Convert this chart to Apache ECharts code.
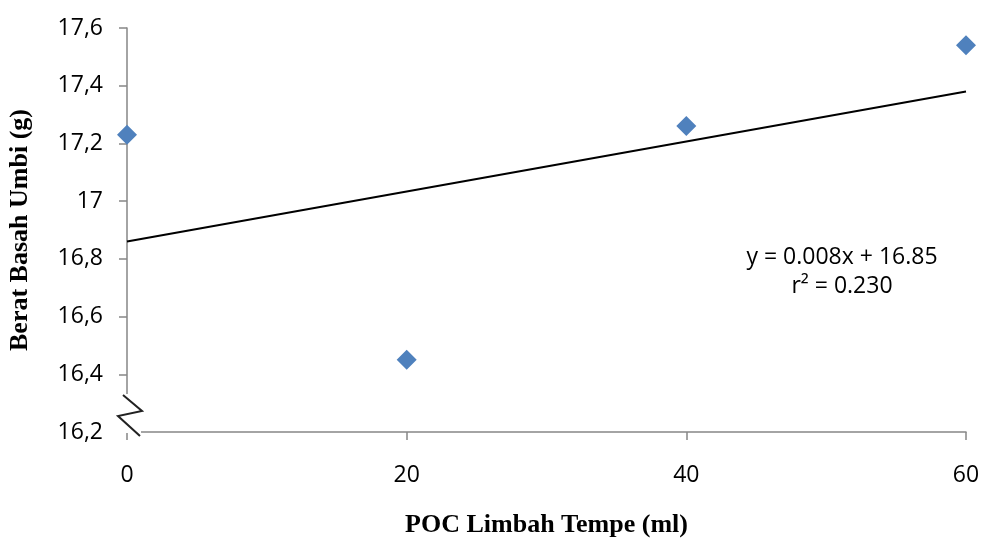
<!DOCTYPE html>
<html>
<head>
<meta charset="utf-8">
<script src="https://cdn.jsdelivr.net/npm/echarts@6/dist/echarts.min.js"></script>
<style>
  html, body { margin: 0; padding: 0; background: #fff; }
  #chart { width: 984px; height: 539px; }
</style>
</head>
<body>
<div id="chart"></div>
<script>
// data
var doses = [0, 20, 40, 60];
var weights = [17.23, 16.45, 17.26, 17.54];
var trendX = [0, 60];
var trendY = [16.86, 17.38];
var equationLines = ['y = 0.008x + 16.85', 'r² = 0.230'];

var axisGray = '#868686';
var labelFont = '"Open Sans", "Liberation Sans", sans-serif';
var titleFont = '"Liberation Serif", "DejaVu Serif", serif';

var chart = echarts.init(document.getElementById('chart'));

var points = doses.map(function (d, i) { return [d, weights[i]]; });
var trend = trendX.map(function (d, i) { return [d, trendY[i]]; });

var option = {
    animation: false,
    backgroundColor: '#fff',
    grid: { left: 127, right: 18, top: 28, bottom: 107, containLabel: false, outerBoundsMode: 'none' },
    xAxis: {
        type: 'value',
        min: 0, max: 60, interval: 20,
        name: 'POC Limbah Tempe (ml)',
        nameLocation: 'middle',
        nameGap: 80,
        nameTextStyle: { fontFamily: titleFont, fontWeight: 'bold', fontSize: 26, color: '#000' },
        axisLine: { show: true, lineStyle: { color: axisGray, width: 1.5 } },
        axisTick: { show: true, length: 8, lineStyle: { color: axisGray, width: 1.5 } },
        axisLabel: { margin: 32, fontFamily: labelFont, fontSize: 23, color: '#000' },
        splitLine: { show: false }
    },
    yAxis: {
        type: 'value',
        min: 16.2, max: 17.6, interval: 0.2,
        name: 'Berat Basah Umbi (g)',
        nameLocation: 'middle',
        nameGap: 94,
        nameRotate: 90,
        nameTextStyle: { fontFamily: titleFont, fontWeight: 'bold', fontSize: 26, color: '#000' },
        axisLine: { show: true, lineStyle: { color: axisGray, width: 1.5 } },
        axisTick: { show: true, length: 8, lineStyle: { color: axisGray, width: 1.5 } },
        axisLabel: {
            margin: 24, fontFamily: labelFont, fontSize: 23, color: '#000',
            formatter: function (v) { return String(+v.toFixed(1)).replace('.', ','); }
        },
        splitLine: { show: false }
    },
    series: [
        {
            type: 'line',
            data: trend,
            symbol: 'none',
            lineStyle: { color: '#000', width: 2 },
            z: 2
        },
        {
            type: 'scatter',
            data: points,
            symbol: 'diamond',
            symbolSize: 20,
            itemStyle: { color: '#4F81BD', opacity: 1 },
            z: 3
        }
    ]
};

chart.setOption(option);

// axis break mark and the trend equation, placed from the axis scale
var o = chart.convertToPixel({ gridIndex: 0 }, [0, 16.2]);
var ox = o[0], oy = o[1];
chart.setOption({
    graphic: [
        {
            type: 'rect',
            shape: { x: ox - 10, y: oy - 38, width: 24, height: 39 },
            style: { fill: '#fff' },
            z: 10
        },
        {
            type: 'polyline',
            shape: { points: [[ox - 4, oy - 37], [ox + 15, oy - 21], [ox - 9, oy - 16], [ox + 13, oy + 4]] },
            style: { stroke: '#222', lineWidth: 2, fill: null },
            z: 11
        },
        {
            type: 'text',
            x: 842, y: 257,
            style: { text: equationLines[0], font: '23px ' + labelFont, fill: '#000', align: 'center', verticalAlign: 'middle' },
            z: 12
        },
        {
            type: 'text',
            x: 842, y: 286,
            style: { text: equationLines[1], font: '23px ' + labelFont, fill: '#000', align: 'center', verticalAlign: 'middle' },
            z: 12
        }
    ]
});
</script>
</body>
</html>
